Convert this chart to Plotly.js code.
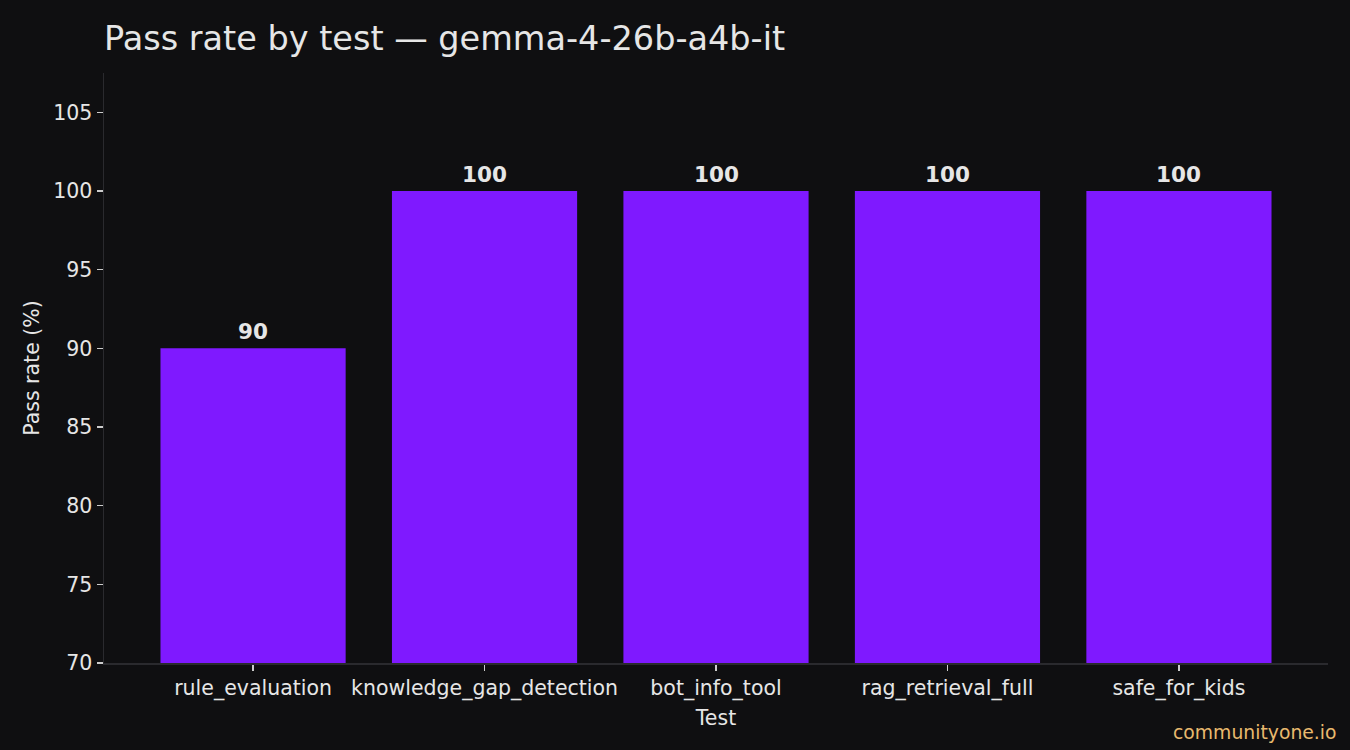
<!DOCTYPE html>
<html>
<head>
<meta charset="utf-8">
<script src="https://cdn.plot.ly/plotly-3.0.1.min.js"></script>
<style>
  html, body { margin: 0; padding: 0; background: #0f0f11; }
  #myDiv { width: 1350px; height: 750px; }
</style>
</head>
<body>
<div id="myDiv"></div>
<script>
// pass rate per test
var tests = ['rule_evaluation', 'knowledge_gap_detection', 'bot_info_tool', 'rag_retrieval_full', 'safe_for_kids']
var passRate = [90, 100, 100, 100, 100]
var yTicks = [70, 75, 80, 85, 90, 95, 100, 105]

var bg = '#0f0f11'
var txt = '#e6e6e6'
var spine = '#2a2a2e'
var font = 'DejaVu Sans, sans-serif'
var idx = tests.map(function (t, i) { return i })

var trace1 = {
  x: idx,
  y: passRate,
  type: 'bar',
  width: 0.8,
  marker: { color: '#7f19ff', line: { width: 0 } },
  hoverinfo: 'none'
}

// value labels above the bars
var labels = passRate.map(function (v, i) {
  return {
    text: '<b>' + v + '</b>',
    x: i, y: v, xref: 'x', yref: 'y',
    yanchor: 'bottom', yshift: 2,
    showarrow: false,
    font: { family: font, size: 21.5, color: txt }
  }
})

labels.push({
  text: 'communityone.io',
  xref: 'paper', yref: 'paper',
  x: (1339 - 104) / (1350 - 104 - 22), xanchor: 'right',
  y: -(732 - 663) / (750 - 73 - 87), yanchor: 'middle',
  showarrow: false,
  font: { family: font, size: 18.8, color: '#e8b96e' }
})

var layout = {
  width: 1350,
  height: 750,
  paper_bgcolor: bg,
  plot_bgcolor: bg,
  font: { family: font, color: txt, size: 20.5 },
  margin: { l: 104, r: 22, t: 73, b: 87 },
  showlegend: false,
  title: {
    text: 'Pass rate by test — gemma-4-26b-a4b-it',
    font: { family: font, size: 33.5, color: txt },
    x: 104 / 1350, xanchor: 'left', xref: 'container',
    y: 1 - 38 / 750, yanchor: 'middle', yref: 'container'
  },
  xaxis: {
    range: [-0.644, 4.644],
    tickvals: idx,
    ticktext: tests,
    ticks: 'outside', ticklen: 6, tickwidth: 1.2, tickcolor: '#cccccc',
    showgrid: false, zeroline: false,
    showline: true, linecolor: spine, linewidth: 1.5,
    tickfont: { family: font, size: 20.5, color: txt },
    title: { text: 'Test', font: { family: font, size: 20.5, color: txt }, standoff: 10 }
  },
  yaxis: {
    range: [70, 107.5],
    tickvals: yTicks,
    ticks: 'outside', ticklen: 6, tickwidth: 1.2, tickcolor: '#cccccc',
    showgrid: false, zeroline: false,
    showline: true, linecolor: spine, linewidth: 1.5,
    tickfont: { family: font, size: 20.5, color: txt },
    title: { text: 'Pass rate (%)', font: { family: font, size: 20.5, color: txt }, standoff: 8 }
  },
  annotations: labels
}

Plotly.newPlot('myDiv', [trace1], layout, { staticPlot: true })
</script>
</body>
</html>
